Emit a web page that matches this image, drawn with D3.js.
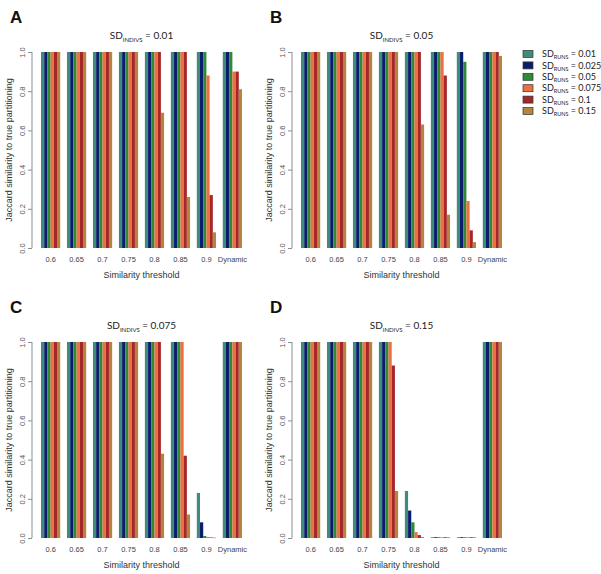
<!DOCTYPE html>
<html><head><meta charset="utf-8">
<script src="https://cdn.jsdelivr.net/npm/d3@7"></script>
<style>body{margin:0;background:#fff}svg{display:block}</style>
</head><body>
<svg id="chart" width="601" height="574"></svg>
<script>
const categories = ["0.6","0.65","0.7","0.75","0.8","0.85","0.9","Dynamic"];
const seriesLabels = ["0.01","0.025","0.05","0.075","0.1","0.15"];
const seriesColors = ["#3f8c7c","#0c1d6c","#2f8a38","#ee7042","#a4272a","#b7843f"];
const panelLetters = ["A","B","C","D"];
const panelSDIndivs = ["0.01","0.05","0.075","0.15"];
const yTicks = [0,0.2,0.4,0.6,0.8,1.0];

// values[category][series]
const valuesA = [
  [1,1,1,1,1,1],[1,1,1,1,1,1],[1,1,1,1,1,1],[1,1,1,1,1,1],
  [1,1,1,1,1,0.69],[1,1,1,1,1,0.26],[1,1,1,0.88,0.27,0.08],[1,1,1,0.90,0.90,0.81]
];
const valuesB = [
  [1,1,1,1,1,1],[1,1,1,1,1,1],[1,1,1,1,1,1],[1,1,1,1,1,1],
  [1,1,1,1,1,0.63],[1,1,1,1,0.88,0.17],[1,1,0.95,0.24,0.09,0.03],[1,1,1,1,1,0.98]
];
const valuesC = [
  [1,1,1,1,1,1],[1,1,1,1,1,1],[1,1,1,1,1,1],[1,1,1,1,1,1],
  [1,1,1,1,1,0.43],[1,1,1,1,0.42,0.12],[0.23,0.08,0.01,0.005,0.003,0.002],[1,1,1,1,1,1]
];
const valuesD = [
  [1,1,1,1,1,1],[1,1,1,1,1,1],[1,1,1,1,1,1],[1,1,1,1,0.88,0.24],
  [0.24,0.14,0.08,0.03,0.015,0.005],[0.004,0.004,0.004,0.004,0.004,0.004],
  [0.004,0.004,0.004,0.004,0.004,0.004],[1,1,1,1,1,1]
];
const panelValues = [valuesA, valuesB, valuesC, valuesD];

const svg = d3.select("#chart");
const offX = [0,260,0,260], offY = [0,0,290,290];
const axisFont = "'Liberation Sans', Arial, sans-serif";
const titleFont = "Lato, 'Open Sans', sans-serif";

panelValues.forEach((vals, p) => {
  const ox = offX[p], oy = offY[p];
  const g = svg.append("g").attr("transform", `translate(${ox},${oy})`);
  const x0 = d3.scaleBand().domain(categories).range([41, 242]).paddingInner(0.26).paddingOuter(0);
  const x1 = d3.scaleBand().domain(d3.range(seriesLabels.length)).range([0, x0.bandwidth()]).padding(0);
  const y = d3.scaleLinear().domain([0,1]).range([248, 52]);

  // bars
  const grp = g.selectAll("g.grp").data(categories).join("g")
    .attr("transform", d => `translate(${x0(d)},0)`);
  grp.selectAll("rect").data((d,i) => vals[i].map((v,s) => ({v,s}))).join("rect")
    .attr("x", d => x1(d.s))
    .attr("width", x1.bandwidth())
    .attr("y", d => y(d.v))
    .attr("height", d => Math.max(0.6, y(0) - y(d.v)))
    .attr("fill", d => seriesColors[d.s]);

  // y axis (R style)
  const ax = g.append("g").attr("transform","translate(32,0)")
    .call(d3.axisLeft(y).tickValues(yTicks).tickFormat(d3.format(".1f")).tickSize(4).tickPadding(3));
  ax.select(".domain").attr("stroke","#8a8f8f").attr("d", `M0,${y(0)}V${y(1)}`);
  ax.selectAll(".tick line").attr("stroke","#8a8f8f");
  ax.selectAll(".tick text")
    .attr("transform","rotate(-90)")
    .attr("x",0).attr("y",-7).attr("dy","0")
    .attr("text-anchor","middle")
    .attr("fill","#555").style("font-family",axisFont).style("font-size","7.5px");

  // x category labels
  g.selectAll("text.xlab").data(categories).join("text")
    .attr("class","xlab")
    .attr("x", d => x0(d) + x0.bandwidth()/2)
    .attr("y", 262)
    .attr("text-anchor","middle")
    .attr("fill","#444").style("font-family",axisFont).style("font-size","7.5px")
    .text(d => d);

  // axis titles
  g.append("text").attr("x", 141.5).attr("y", 278).attr("text-anchor","middle")
    .attr("fill","#333").style("font-family",axisFont).style("font-size","9px")
    .text("Similarity threshold");
  g.append("text").attr("transform","translate(12,150) rotate(-90)").attr("text-anchor","middle")
    .attr("fill","#333").style("font-family",axisFont).style("font-size","9px")
    .text("Jaccard similarity to true partitioning");

  // panel title
  const t = g.append("text").attr("x", 141.5).attr("y", 39).attr("text-anchor","middle")
    .attr("fill","#222").style("font-family",titleFont).style("font-size","10px");
  t.append("tspan").text("SD");
  t.append("tspan").attr("dy", 2.5).style("font-size","6px").text("INDIVS");
  t.append("tspan").attr("dy", -2.5).text(" = " + panelSDIndivs[p]);

  // panel letter
  g.append("text").attr("x", 10).attr("y", 23)
    .attr("fill","#111").style("font-family",axisFont).style("font-weight","bold").style("font-size","17px")
    .text(panelLetters[p]);
});

// legend
const lg = svg.append("g").attr("transform","translate(523,54)");
seriesLabels.forEach((lab, i) => {
  const r = lg.append("g").attr("transform", `translate(0,${i*11.4})`);
  r.append("rect").attr("x",0).attr("y",-3.5).attr("width",10).attr("height",7)
    .attr("fill",seriesColors[i]).attr("stroke","#333").attr("stroke-width",0.7);
  const tx = r.append("text").attr("x",19).attr("y",3.2)
    .attr("fill","#222").style("font-family",titleFont).style("font-size","9px");
  tx.append("tspan").text("SD");
  tx.append("tspan").attr("dy",2).style("font-size","5.5px").text("RUNS");
  tx.append("tspan").attr("dy",-2).text(" = " + lab);
});
</script>
</body></html>
